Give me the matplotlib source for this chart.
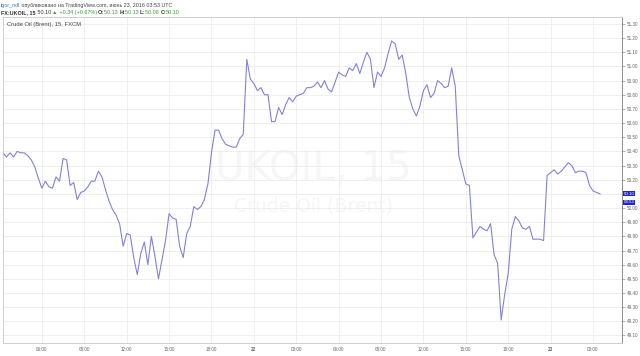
import matplotlib
matplotlib.use("Agg")
import matplotlib.pyplot as plt
from matplotlib.transforms import IdentityTransform

plt.rcParams['font.family'] = ['Liberation Sans', 'DejaVu Sans']

# 15 min bars, x = bar index (session gaps removed, like TradingView)
bars = [0, 1, 2, 3, 4, 5, 6, 7, 8, 9, 10, 11, 12, 13, 14, 15, 16, 17, 18, 19,
        20, 21, 22, 23, 24, 25, 26, 27, 28, 29, 30, 31, 32, 33, 34, 35, 36, 37, 38, 39,
        40, 41, 42, 43, 44, 46, 47, 48, 49, 50, 51, 52, 53, 54, 55, 56, 57, 58, 59, 60,
        61, 62, 63, 64, 65, 66, 67, 68, 69, 70, 71, 72, 73, 74, 75, 76, 77, 78, 79, 80,
        81, 82, 83, 84, 85, 86, 87, 88, 89, 90, 91, 92, 93, 94, 95, 96, 97, 98, 99, 100,
        101, 102, 103, 104, 105, 106, 107, 108, 109, 110, 111, 112, 113, 114, 115, 116, 117, 118, 119, 120,
        121, 122, 123, 124, 125, 126, 127, 128, 129, 130, 131, 132, 133, 134, 135, 136, 137, 138, 139, 140,
        141, 142, 143, 144, 145, 146, 147, 148, 149, 150, 151, 152, 153, 154, 155, 156, 157, 158, 159, 160,
        161, 162, 163, 164, 165, 166, 167, 168, 169]
close = [50.39, 50.36, 50.39, 50.36, 50.40, 50.39, 50.39, 50.37, 50.34, 50.29, 50.21, 50.14, 50.19, 50.15, 50.14, 50.22, 50.19, 50.35, 50.34, 50.16,
         50.18, 50.06, 50.11, 50.12, 50.15, 50.19, 50.19, 50.26, 50.22, 50.13, 50.05, 49.99, 49.95, 49.89, 49.73, 49.82, 49.81, 49.65, 49.53, 49.68,
         49.76, 49.60, 49.80, 49.66, 49.50, 49.77, 49.96, 49.93, 49.92, 49.73, 49.65, 49.82, 49.87, 50.01, 49.99, 50.01, 50.06, 50.17, 50.39, 50.55,
         50.55, 50.49, 50.45, 50.44, 50.43, 50.43, 50.49, 50.52, 51.05, 50.91, 50.88, 50.83, 50.85, 50.80, 50.80, 50.61, 50.61, 50.71, 50.66, 50.73,
         50.78, 50.75, 50.79, 50.80, 50.81, 50.85, 50.85, 50.86, 50.89, 50.85, 50.90, 50.84, 50.82, 50.89, 50.96, 50.94, 50.93, 50.99, 50.97, 51.02,
         50.95, 51.03, 51.10, 51.05, 50.85, 50.96, 50.93, 50.99, 51.09, 51.18, 51.16, 51.05, 51.08, 50.95, 50.78, 50.70, 50.65, 50.72, 50.83, 50.87,
         50.78, 50.81, 50.90, 50.88, 50.85, 50.86, 50.99, 50.86, 50.37, 50.27, 50.17, 50.16, 49.79, 49.83, 49.87, 49.85, 49.84, 49.89, 49.67, 49.61,
         49.21, 49.39, 49.54, 49.85, 49.94, 49.91, 49.86, 49.85, 49.87, 49.78, 49.78, 49.78, 49.77, 50.23, 50.25, 50.27, 50.24, 50.26, 50.29, 50.32,
         50.30, 50.25, 50.26, 50.26, 50.25, 50.16, 50.12, 50.11, 50.10]

tick_bars = [11, 23, 35, 47, 59, 71, 83, 95, 107, 119, 131, 143, 155, 167]
tick_labels = ['06:00', '09:00', '12:00', '15:00', '18:00', '22', '03:00',
               '06:00', '09:00', '12:00', '15:00', '18:00', '23', '03:00']
price_ticks = [round(49.1 + 0.1 * k, 2) for k in range(23)]

last_price = 50.10
countdown = '08:53'

fig = plt.figure(figsize=(6.4, 3.56), dpi=100)
ax = fig.add_axes([3 / 640, 13 / 356, 619 / 640, 326 / 356])

ax.plot(bars, close, color='#8282d8', lw=0.8)

ax.set_xlim(0, 175.2)
ax.set_ylim(49.047, 51.349)

ax.set_xticks(tick_bars)
ax.set_xticklabels(tick_labels)
for lab in ax.get_xticklabels():
    if len(lab.get_text()) == 2:
        lab.set_color('#333333')
        lab.set_fontweight('bold')
ax.set_yticks(price_ticks)
# the 50.10 label sits under the last-price marker
ax.set_yticklabels(['' if abs(v - last_price) < 1e-6 else '%.2f' % v for v in price_ticks])
ax.yaxis.tick_right()
ax.tick_params(axis='y', length=2, width=0.5, color='#999999', labelsize=3.3,
               labelcolor='#666666', pad=1.5)
ax.tick_params(axis='x', length=0, labelsize=3.3, labelcolor='#666666', pad=3)
ax.grid(True, color='#ececec', lw=0.6)
ax.set_axisbelow(True)
for side in ['left', 'top', 'bottom']:
    ax.spines[side].set_color('#c8c8c8')
    ax.spines[side].set_linewidth(0.6)
ax.spines['right'].set_color('#8c8c8c')
ax.spines['right'].set_linewidth(0.7)

# watermark
ax.text(0.502, 0.535, 'UKOIL, 15', transform=ax.transAxes, ha='center', va='center',
        fontsize=29, color='#f6f6f6', zorder=0, family='DejaVu Sans')
ax.text(0.502, 0.42, 'Crude Oil (Brent)', transform=ax.transAxes, ha='center', va='center',
        fontsize=13.5, color='#f6f6f6', zorder=0, family='DejaVu Sans')

ax.text(0.007, 0.977, 'Crude Oil (Brent), 15, FXCM', transform=ax.transAxes,
        ha='left', va='center', fontsize=4.2, color='#444444')

# last price / countdown boxes on the price scale
box = dict(boxstyle='square,pad=0.12', fc='#2424c8', ec='none')
ax.text(1.003, last_price, '%.2f' % last_price, transform=ax.get_yaxis_transform(), ha='left',
        va='center', fontsize=3.2, color='white', bbox=box)
ax.text(1.003, last_price - 0.058, countdown, transform=ax.get_yaxis_transform(), ha='left',
        va='center', fontsize=3.2, color='white', bbox=box)

# header lines, drawn piece by piece in pixel coordinates
renderer = fig.canvas.get_renderer()


def rich(x, y, parts, size):
    for s, col, wt in parts:
        t = fig.text(x, y, s, transform=IdentityTransform(), fontsize=size,
                     color=col, weight=wt, va='center', ha='left')
        x += t.get_window_extent(renderer).width


green = '#3a9a3a'
dark = '#333333'
rich(1, 356 - 5, [('igor_ndl', '#3b78c8', 'normal'),
                  (' опубликовано на TradingView.com, июнь 23, 2016 03:53 UTC', '#444444', 'normal')], 3.9)
rich(1, 356 - 12.5, [('FX:UKOIL, 15', dark, 'bold'), (' 50.10 ', dark, 'normal'),
                     ('▲', green, 'normal'), (' +0.34 (+0.67%) ', green, 'normal'),
                     ('O:', dark, 'bold'), ('50.13 ', green, 'normal'),
                     ('H:', dark, 'bold'), ('50.13 ', green, 'normal'),
                     ('L:', dark, 'bold'), ('50.08 ', green, 'normal'),
                     ('C:', dark, 'bold'), ('50.10', green, 'normal')], 3.9)

fig.savefig('out.png', dpi=100)
